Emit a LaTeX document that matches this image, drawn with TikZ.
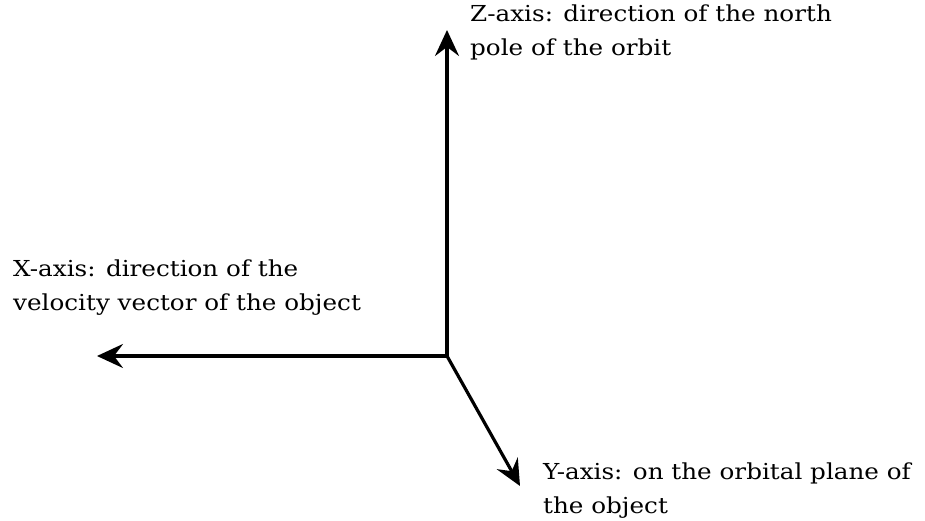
\documentclass[tikz,border=0pt]{standalone}
\usepackage{fontspec}
\setmainfont{DejaVu Serif}[FakeStretch=1.12]
\usetikzlibrary{arrows.meta}
\begin{document}
\begin{tikzpicture}[x=1pt,y=-1pt,
  axis/.style={line width=3.2pt,-{Stealth[length=26pt,width=24pt,inset=9pt]}},
  lbl/.style={inner sep=0pt,align=left,font=\fontsize{22}{34}\selectfont}]
\useasboundingbox (0,0) rectangle (925,521);
\coordinate (O) at (447,356);
\coordinate (Z) at (447,30);
\coordinate (X) at (97,356);
\coordinate (Y) at (520,486);
\draw[axis] (O) -- (Z);
\draw[axis] (O) -- (X);
\draw[axis] (O) -- (Y);
\node[lbl,anchor=base west] (zl) at (470,56) {Z-axis: direction of the north\\pole of the orbit};
\node[lbl,anchor=base west] (xl) at (13,310) {X-axis: direction of the\\velocity vector of the object};
\node[lbl,anchor=base west] (yl) at (543,513) {Y-axis: on the orbital plane of\\the object};
\end{tikzpicture}
\end{document}
